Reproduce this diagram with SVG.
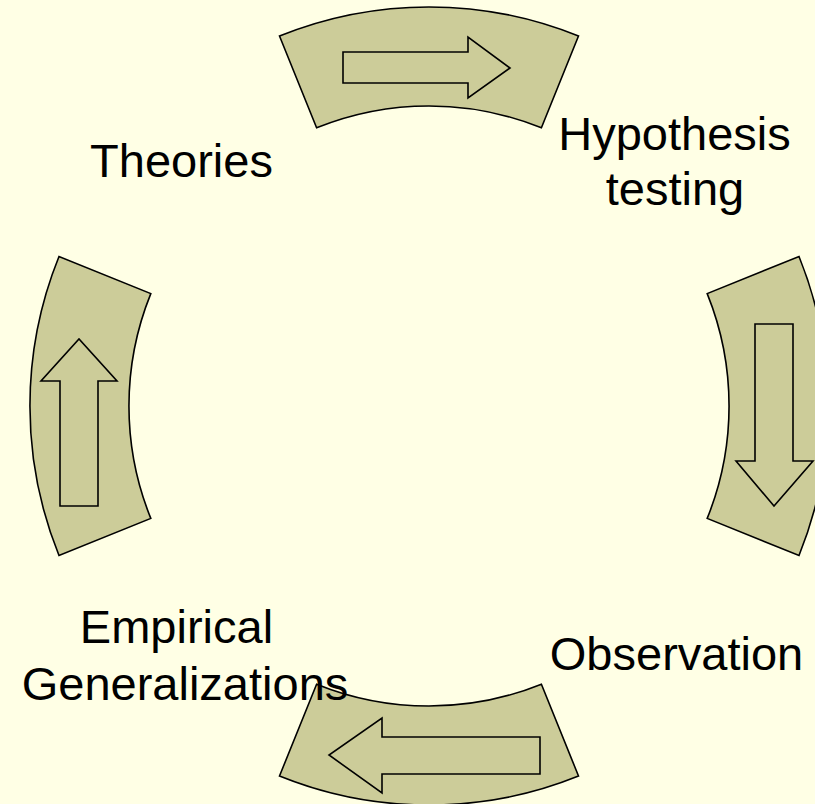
<svg xmlns="http://www.w3.org/2000/svg" width="815" height="804" viewBox="0 0 815 804">
<style>
.seg{fill:#CCCC99;stroke:#000;stroke-width:1.6;stroke-linejoin:miter}
.arr{fill:#CCCC99;stroke:#000;stroke-width:1.6;stroke-linejoin:miter}
.lbl{font-family:"Liberation Sans",Arial,sans-serif;font-size:47px;fill:#000}
</style>
<rect width="815" height="804" fill="#FFFFE5"/>
<g id="connectors">
<g id="seg-top">
<path class="seg" d="M279.5,36 A399,399 0 0 1 578.5,36 L541.4,127.8 A300,300 0 0 0 316.6,127.8 Z"/>
<path class="arr" d="M343,52 L468,52 L468,37 L510,68 L468,98 L468,83 L343,83 Z"/>
</g>
<g id="seg-right">
<path class="seg" d="M799,256.5 A399,399 0 0 1 799,555.5 L707.2,518.4 A300,300 0 0 0 707.2,293.6 Z"/>
<path class="arr" d="M755,324 L793,324 L793,461 L813,461 L774,506 L736,461 L755,461 Z"/>
</g>
<g id="seg-bottom">
<path class="seg" d="M578.5,776 A399,399 0 0 1 279.5,776 L316.6,684.2 A300,300 0 0 0 541.4,684.2 Z"/>
<path class="arr" d="M540,737 L540,774 L382,774 L382,793 L329,755 L382,718 L382,737 Z"/>
</g>
<g id="seg-left">
<path class="seg" d="M59,555.5 A399,399 0 0 1 59,256.5 L150.8,293.6 A300,300 0 0 0 150.8,518.4 Z"/>
<path class="arr" d="M60,506 L60,381 L41,381 L79,339 L117,381 L98,381 L98,506 Z"/>
</g>
</g>
<g id="theories"><text class="lbl" x="181.5" y="177" text-anchor="middle">Theories</text></g>
<g id="hypothesis"><text class="lbl" x="674.5" y="150" text-anchor="middle">Hypothesis</text><text class="lbl" x="675" y="205" text-anchor="middle">testing</text></g>
<g id="observation"><text class="lbl" x="676.5" y="670" text-anchor="middle">Observation</text></g>
<g id="empirical"><text class="lbl" x="176.5" y="643" text-anchor="middle">Empirical</text><text class="lbl" x="185" y="700" text-anchor="middle">Generalizations</text></g>
</svg>
